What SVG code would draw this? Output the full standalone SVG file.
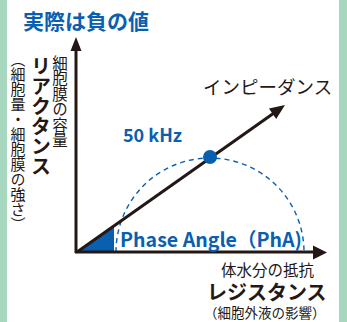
<svg xmlns="http://www.w3.org/2000/svg" width="347" height="322" viewBox="0 0 347 322">
<style>
.jp{font-family:"Noto Sans CJK JP","Noto Sans",sans-serif;fill:#231815}
.blue{fill:#0b5fb0}
.b{font-weight:bold}
.v{writing-mode:vertical-rl}
.axis{stroke:#231815;stroke-width:3;fill:none}
</style>
<rect width="347" height="322" fill="#ffffff"/>
<rect x="0" y="0" width="7" height="322" fill="#a8d7c0"/>
<rect x="339" y="0" width="8" height="322" fill="#a8d7c0"/>
<g id="title"><text class="jp blue b" x="23" y="29" font-size="21">実際は負の値</text></g>
<g id="connectors">
<path d="M116,252 A94,94 0 0 1 304,252" fill="none" stroke="#0b5fb0" stroke-width="1.4" stroke-dasharray="5,4"/>
<polygon points="77,252 114,252 114,226" fill="#0b5fb0"/>
<line class="axis" x1="76" y1="253" x2="76" y2="49"/>
<polygon points="76,37 70.5,51 81.5,51" fill="#231815"/>
<line class="axis" x1="75" y1="252" x2="315" y2="252"/>
<polygon points="327,252.5 313,245.5 313,259.5" fill="#231815"/>
<line x1="77" y1="252" x2="274" y2="113" stroke="#231815" stroke-width="3"/>
<polygon points="285,105 276.2,119 269,108.5" fill="#231815"/>
</g>
<g id="point"><circle cx="210" cy="157" r="7" fill="#0b5fb0"/></g>
<g id="yaxis-label">
<text class="jp v" x="60" y="55" font-size="15.5">細胞膜の容量</text>
<text class="jp v b" x="41" y="56" font-size="20">リアクタンス</text>
<text class="jp v" x="18" y="52" font-size="15">（細胞量・細胞膜の強さ）</text>
</g>
<g id="impedance"><text class="jp" x="203" y="94" font-size="18.5">インピーダンス</text></g>
<g id="freq"><text class="jp blue b" x="123" y="142" font-size="18">50 kHz</text></g>
<g id="phase"><text class="jp blue b" x="120" y="247" font-size="19.5" textLength="182" lengthAdjust="spacingAndGlyphs">Phase Angle（PhA)</text></g>
<g id="xaxis-label">
<text class="jp" x="221" y="276" font-size="15.5">体水分の抵抗</text>
<text class="jp b" x="207" y="300" font-size="20">レジスタンス</text>
<text class="jp" x="204" y="318" font-size="13.5">（細胞外液の影響）</text>
</g>
</svg>
